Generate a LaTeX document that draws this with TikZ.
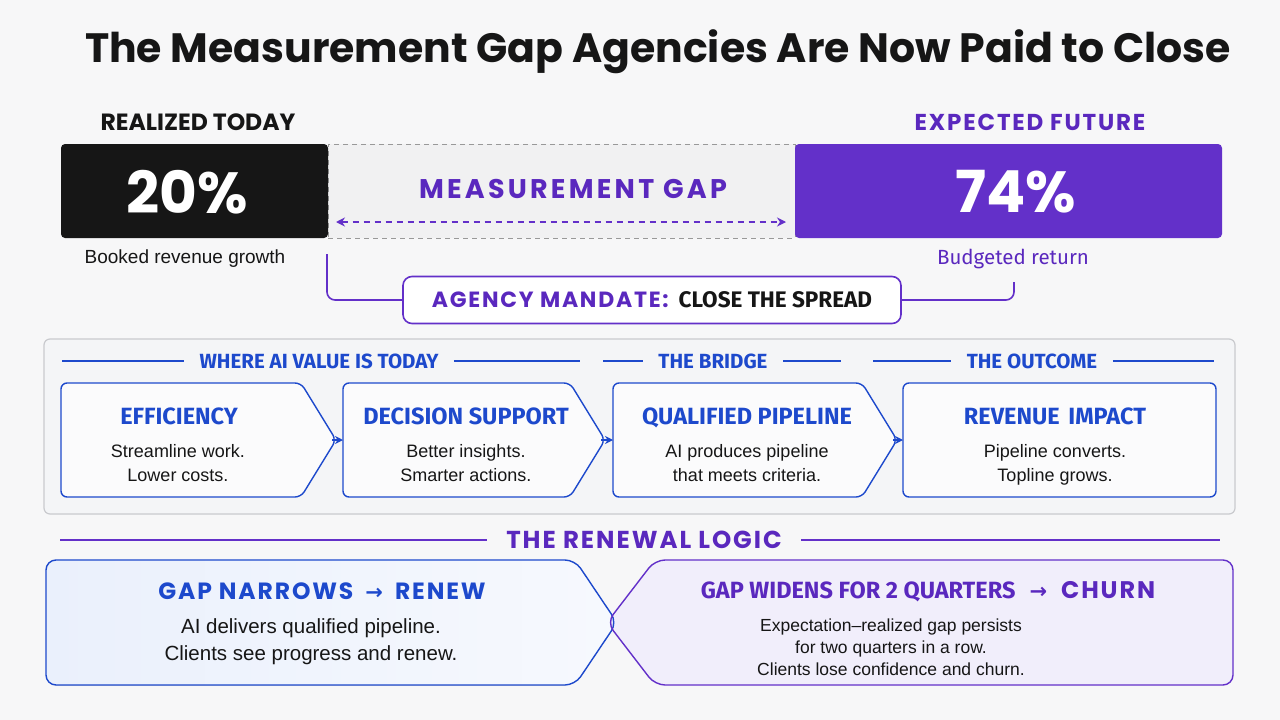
\documentclass[tikz,border=0pt]{standalone}
\usepackage{fontspec}
\setmainfont{Liberation Sans}
\newfontfamily\pop{Poppins}
\newfontfamily\popls[LetterSpace=8]{Poppins}
\newfontfamily\poplw[LetterSpace=12]{Poppins}
\newfontfamily\fira{Fira Sans}
\newfontfamily\dv{DejaVu Sans}
\usetikzlibrary{arrows.meta}
\definecolor{bg}{HTML}{F7F7F8}
\definecolor{ink}{HTML}{161616}
\definecolor{purp}{HTML}{6330C9}
\definecolor{purpt}{HTML}{5A28BE}
\definecolor{blu}{HTML}{1D49CC}
\definecolor{panel}{HTML}{F4F5F7}
\definecolor{panelb}{HTML}{C9CACE}
\definecolor{gapfill}{HTML}{F1F1F2}
\definecolor{lblue}{HTML}{EAF0FC}
\definecolor{lpurp}{HTML}{F1EEFB}
\tikzset{
  boxline/.style={draw=blu, line width=1.4, rounded corners=6, fill=white!60!panel},
  hdr/.style={font=\fira\bfseries\fontsize{20.5}{22}\selectfont, text=blu},
  btitle/.style={font=\fira\bfseries\fontsize{23.5}{24}\selectfont, text=blu},
  bdesc/.style={font=\fontsize{18}{24}\selectfont, text=ink, align=center},
  hline/.style={draw=blu, line width=1.2},
  pline/.style={draw=purp, line width=1.6},
  rect/.style={inner sep=0, outer sep=0, anchor=north west},
}
\begin{document}
\begin{tikzpicture}[x=1pt,y=-1pt]
\fill[bg] (0,0) rectangle (1280,720);
\useasboundingbox (0,0) rectangle (1280,720);

% title
\node[font=\pop\bfseries\fontsize{41}{48}\selectfont, text=ink] (title) at (658,52) {The Measurement Gap Agencies Are Now Paid to Close};

% top labels
\node[font=\pop\bfseries\fontsize{23.5}{26}\selectfont, text=ink] (lreal) at (198,122) {REALIZED TODAY};
\node[font=\popls\bfseries\fontsize{23}{26}\selectfont, text=purpt] (lfut) at (1030,122) {EXPECTED FUTURE};

% gap band and bars
\node[rect, fill=gapfill, draw=gray!80, dash pattern=on 5pt off 4pt, line width=1, minimum width=467, minimum height=94] (gap) at (328,144) {};
\node[rect, fill=ink, rounded corners=4, minimum width=267, minimum height=94] (real) at (61,144) {};
\node[rect, fill=purp, rounded corners=4, minimum width=427, minimum height=94] (fut) at (795,144) {};
\node[font=\pop\bfseries\fontsize{58}{60}\selectfont, text=white] (n20) at (187,192) {20\%};
\node[font=\pop\bfseries\fontsize{58}{60}\selectfont, text=white] (n74) at (1016,192) {74\%};
\node[font=\poplw\bfseries\fontsize{27}{30}\selectfont, text=purpt] (gapl) at (573,189) {MEASUREMENT GAP};
\coordinate (ga) at (336,222);
\coordinate (gb) at (786,222);
\draw[purp, line width=1.6, dash pattern=on 6pt off 5pt, {Stealth[length=9pt,width=9pt]}-{Stealth[length=9pt,width=9pt]}] (ga) -- (gb);

\node[font=\fontsize{19}{22}\selectfont, text=ink] (lbook) at (185,259) {Booked revenue growth};
\node[font=\fira\fontsize{20.5}{22}\selectfont, text=purpt] (lbud) at (1013,259) {Budgeted return};

% mandate
\node[draw=purp, line width=1.6, fill=white, rounded corners=9, minimum width=498, minimum height=47] (mand) at (652,300)
  {{\popls\bfseries\fontsize{22}{24}\selectfont\color{purpt}AGENCY MANDATE:}\hspace{10pt}{\fira\bfseries\fontsize{22.5}{24}\selectfont\color{ink}CLOSE THE SPREAD}};
\coordinate (m1) at (327,254);
\coordinate (m2) at (1014,282);
\draw[pline, rounded corners=8] (m1) |- (mand.west);
\draw[pline, rounded corners=8] (mand.east) -| (m2);

% panel
\node[rect, draw=panelb, fill=panel, line width=1.2, rounded corners=6, minimum width=1191, minimum height=175] (panel) at (44,339) {};

% headers
\node[hdr] (h1) at (319,361) {WHERE AI VALUE IS TODAY};
\node[hdr] (h2) at (713,361) {THE BRIDGE};
\node[hdr] (h3) at (1032,361) {THE OUTCOME};
\coordinate (h1a) at (62,361); \coordinate (h1b) at (580,361);
\coordinate (h2a) at (603,361); \coordinate (h2b) at (841,361);
\coordinate (h3a) at (873,361); \coordinate (h3b) at (1214,361);
\draw[hline] (h1a) -- ([xshift=-12pt]h1.west);
\draw[hline] ([xshift=12pt]h1.east) -- (h1b);
\draw[hline] (h2a) -- ([xshift=-12pt]h2.west);
\draw[hline] ([xshift=12pt]h2.east) -- (h2b);
\draw[hline] (h3a) -- ([xshift=-12pt]h3.west);
\draw[hline] ([xshift=12pt]h3.east) -- (h3b);

% stage boxes
\node[rect, minimum width=240, minimum height=114] (b1) at (61,383) {};
\node[rect, minimum width=227, minimum height=114] (b2) at (343,383) {};
\node[rect, minimum width=249, minimum height=114] (b3) at (613,383) {};
\node[rect, minimum width=313, minimum height=114] (b4) at (903,383) {};
\draw[boxline] (b1.north west) -- (b1.north east) -- ([xshift=35pt]b1.east) -- (b1.south east) -- (b1.south west) -- cycle;
\draw[boxline] (b2.north west) -- (b2.north east) -- ([xshift=35pt]b2.east) -- (b2.south east) -- (b2.south west) -- cycle;
\draw[boxline] (b3.north west) -- (b3.north east) -- ([xshift=35pt]b3.east) -- (b3.south east) -- (b3.south west) -- cycle;
\draw[boxline] (b4.north west) rectangle (b4.south east);
\draw[blu, line width=1.4, -{Stealth[length=8pt,width=8pt]}] ([xshift=31pt]b1.east) -- (b2.west);
\draw[blu, line width=1.4, -{Stealth[length=8pt,width=8pt]}] ([xshift=31pt]b2.east) -- (b3.west);
\draw[blu, line width=1.4, -{Stealth[length=8pt,width=8pt]}] ([xshift=31pt]b3.east) -- (b4.west);

\node[btitle] (b1t) at (179,420) {EFFICIENCY\strut};
\node[bdesc] (b1d) at (178,465) {Streamline work.\strut\\Lower costs.\strut};
\node[btitle] (b2t) at (466,420) {DECISION SUPPORT\strut};
\node[bdesc] (b2d) at (466,465) {Better insights.\strut\\Smarter actions.\strut};
\node[btitle] (b3t) at (747,420) {QUALIFIED PIPELINE\strut};
\node[bdesc] (b3d) at (747,465) {AI produces pipeline\strut\\that meets criteria.\strut};
\node[btitle] (b4t) at (1055,420) {REVENUE\hspace{3pt} IMPACT\strut};
\node[bdesc] (b4d) at (1055,465) {Pipeline converts.\strut\\Topline grows.\strut};

% renewal logic
\node[font=\popls\bfseries\fontsize{24.5}{26}\selectfont, text=purpt] (rh) at (644,540) {THE RENEWAL LOGIC};
\coordinate (rha) at (60,540); \coordinate (rhb) at (1220,540);
\draw[pline] (rha) -- ([xshift=-16pt]rh.west);
\draw[pline] ([xshift=16pt]rh.east) -- (rhb);

\node[rect, minimum width=529, minimum height=125] (r1) at (46,560) {};
\node[rect, minimum width=578, minimum height=125] (r2) at (655,560) {};
\fill[left color=lblue, right color=lblue!40!white, rounded corners=10] (r1.north west) -- (r1.north east) -- ([xshift=42pt]r1.east) -- (r1.south east) -- (r1.south west) -- cycle;
\fill[lpurp, rounded corners=10] (r2.north west) -- (r2.north east) -- (r2.south east) -- (r2.south west) -- ([xshift=-48pt]r2.west) -- cycle;
\draw[blu, line width=1.4, rounded corners=10] (r1.north west) -- (r1.north east) -- ([xshift=42pt]r1.east) -- (r1.south east) -- (r1.south west) -- cycle;
\draw[purp, line width=1.4, rounded corners=10] (r2.north west) -- (r2.north east) -- (r2.south east) -- (r2.south west) -- ([xshift=-48pt]r2.west) -- cycle;

\node[text=blu] (r1t) at (322,591) {{\popls\bfseries\fontsize{23.5}{24}\selectfont GAP NARROWS}\hspace{12pt}{\dv\bfseries\fontsize{21}{24}\selectfont →}\hspace{12pt}{\popls\bfseries\fontsize{23.5}{24}\selectfont RENEW}};
\node[font=\fontsize{20.5}{27}\selectfont, text=ink, align=center] (r1d) at (311,642) {AI delivers qualified pipeline.\\Clients see progress and renew.};
\node[text=purpt] (r2t) at (928,592) {{\fira\bfseries\fontsize{23.5}{24}\selectfont GAP WIDENS FOR 2 QUARTERS}\hspace{14pt}{\dv\bfseries\fontsize{21}{24}\selectfont →}\hspace{14pt}{\popls\bfseries\fontsize{24}{24}\selectfont CHURN}};
\node[font=\fontsize{17.5}{22}\selectfont, text=ink, align=center] (r2d) at (891,647) {Expectation–realized gap persists\\for two quarters in a row.\\Clients lose confidence and churn.};
\end{tikzpicture}
\end{document}
